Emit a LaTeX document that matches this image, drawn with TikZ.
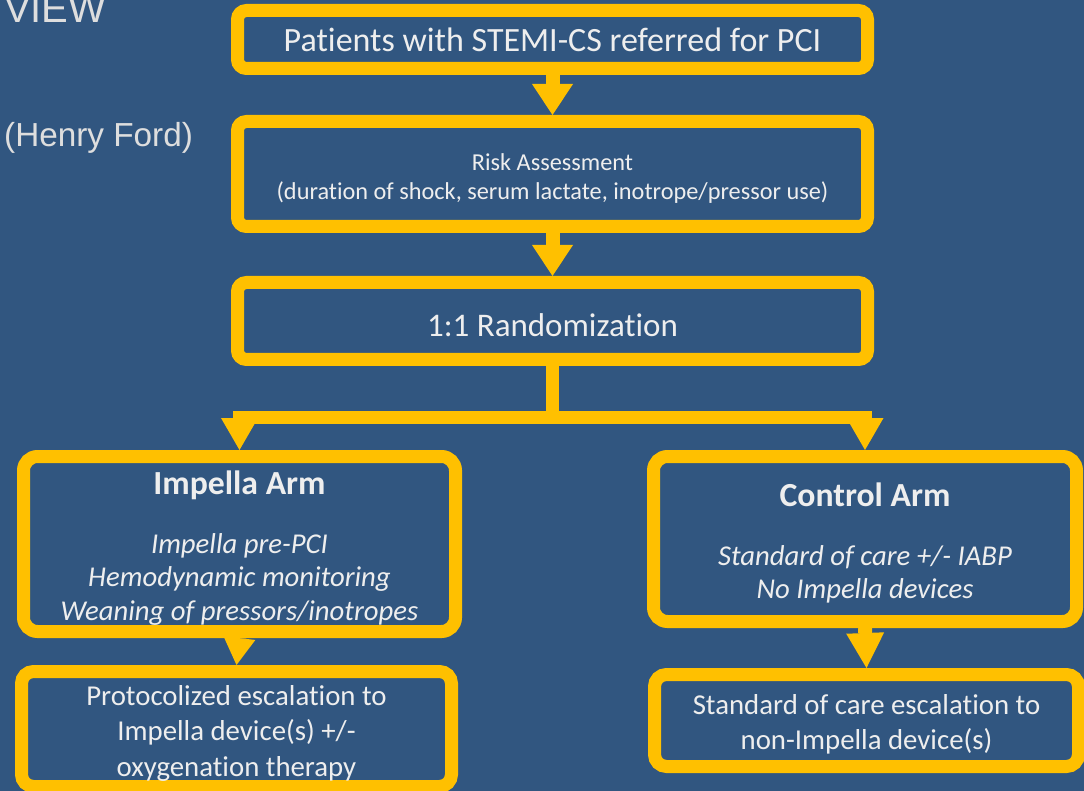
\documentclass[tikz,border=0pt]{standalone}
\usepackage{fontspec}
\setmainfont[Ligatures=NoCommon]{Carlito}
\newfontfamily\arialfont{Liberation Sans}
\usetikzlibrary{arrows.meta}

\definecolor{bg}{RGB}{49,86,128}
\definecolor{gold}{RGB}{255,192,0}
\definecolor{ink}{RGB}{238,238,238}
\definecolor{side}{RGB}{222,222,222}

% a strut that pushes a text block downwards inside its box
\newcommand{\topstrut}[1]{\rule{0pt}{#1}}

\tikzset{
  box/.style={draw=gold, line width=13pt, fill=bg, rounded corners=9pt,
    align=center, text=ink, inner sep=0pt},
  flow/.style={draw=gold, line width=14pt,
    -{Triangle[length=31pt, width=41pt, line width=0pt]}},
  elbow/.style={draw=gold, line width=13pt,
    -{Triangle[length=32pt, width=37pt, line width=0pt]}},
  sidetext/.style={anchor=base west, inner sep=0pt, text=side}
}

\begin{document}
\begin{tikzpicture}[x=1pt, y=-1pt]
  \useasboundingbox (0,0) rectangle (1084,791);
  \clip (0,0) rectangle (1084,791);
  \fill[bg] (0,0) rectangle (1084,791);

  % side titles
  \node[sidetext] (view) at (4,23) {\arialfont\fontsize{40}{48}\selectfont VIEW};
  \node[sidetext] (site) at (4,147) {\arialfont\fontsize{33.3}{40}\selectfont (Henry Ford)};

  % main column
  \node[box, minimum width=630pt, minimum height=58pt,
        font=\fontsize{34}{40}\selectfont] (b1) at (552.5,39.5)
        {Patients with STEMI-CS referred for PCI};
  \node[box, minimum width=630pt, minimum height=105pt,
        font=\fontsize{24.3}{29}\selectfont] (b2) at (552.5,174)
        {\topstrut{26pt}Risk Assessment\\(duration of shock, serum lactate, inotrope/pressor use)};
  \node[box, minimum width=630pt, minimum height=77pt,
        font=\fontsize{33}{40}\selectfont] (b3) at (552.5,321)
        {\topstrut{31pt}1:1 Randomization};

  % arms
  \node[box, rounded corners=14pt, minimum width=432pt, minimum height=175pt,
        font=\fontsize{28.7}{33.5}\selectfont\itshape] (impella) at (239.5,544)
        {\topstrut{32pt}{\fontsize{33.7}{33.5}\selectfont\bfseries\upshape Impella Arm}\\[25pt]
         Impella pre-PCI\\Hemodynamic monitoring\\Weaning of pressors/inotropes};
  \node[box, rounded corners=14pt, minimum width=423pt, minimum height=165pt,
        font=\fontsize{28.7}{33}\selectfont\itshape] (control) at (865,539)
        {\topstrut{32pt}{\fontsize{33.7}{33}\selectfont\bfseries\upshape Control Arm}\\[26pt]
         Standard of care +/- IABP\\No Impella devices};

  % escalation boxes
  \node[box, rounded corners=12pt, minimum width=430pt, minimum height=115pt,
        font=\fontsize{28.8}{35.5}\selectfont] (impesc) at (236.5,729)
        {\topstrut{28.5pt}Protocolized escalation to\\Impella device(s) +/-\\oxygenation therapy};
  \node[box, rounded corners=12pt, minimum width=424pt, minimum height=92pt,
        font=\fontsize{28.8}{35}\selectfont] (ctlesc) at (866.5,720.5)
        {\topstrut{28.5pt}Standard of care escalation to\\non-Impella device(s)};

  % connectors
  \draw[flow] (b1.south) -- (b2.north);
  \draw[flow] (b2.south) -- (b3.north);
  \draw[elbow] (b3.south) -- ++(0,51.5) -| (impella.north);
  \draw[elbow] (b3.south) -- ++(0,51.5) -| (control.north);
  \draw[draw=gold, line width=14pt,
        -{Triangle[length=27pt, width=32pt, line width=0pt]}]
        (impella.south) -- (impesc.north);
  \draw[draw=gold, line width=14pt,
        -{Triangle[length=35pt, width=38pt, line width=0pt]}]
        (control.south) -- (ctlesc.north);
\end{tikzpicture}
\end{document}
